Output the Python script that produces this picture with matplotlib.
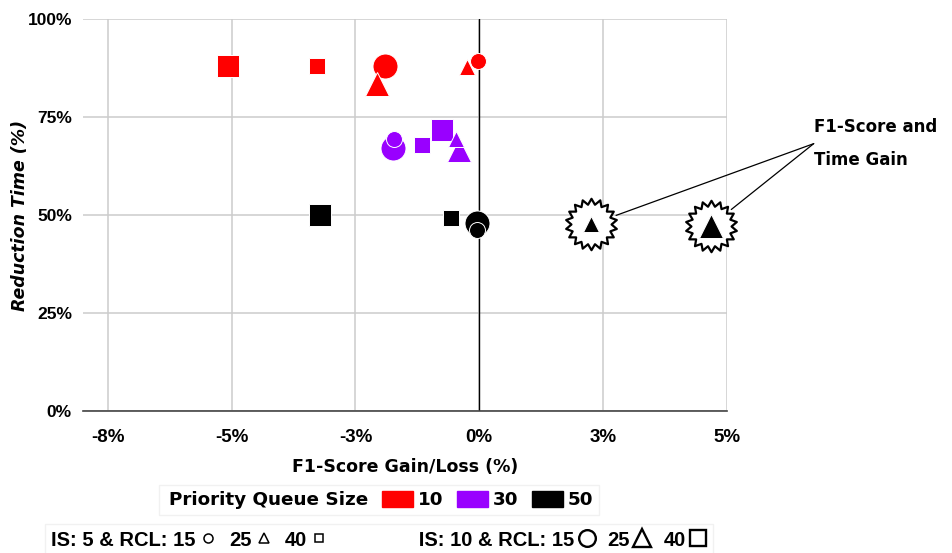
import numpy as np
import matplotlib.pyplot as plt
from matplotlib.path import Path
from matplotlib.lines import Line2D
from matplotlib.patches import Patch
from matplotlib.ticker import FuncFormatter


# dados: (ganho F1 %, reducao de tempo %)
queue_sizes = ['10', '30', '50']
queue_colors = ['#ff0000', '#9900ff', '#000000']
rcl_values = ['15', '25', '40']
rcl_markers = ['o', '^', 's']

# IS = 10 (marcadores grandes), ordem RCL 15, 25, 40
f1_is10 = {
    '10': [-1.90, -2.07, -5.07],
    '30': [-1.74, -0.40, -0.75],
    '50': [-0.04, 4.67, -3.21],
}
time_is10 = {
    '10': [88.0, 83.5, 88.0],
    '30': [67.1, 66.5, 71.7],
    '50': [48.0, 47.2, 50.0],
}
# IS = 5 (marcadores pequenos)
f1_is5 = {
    '10': [-0.02, -0.24, -3.27],
    '30': [-1.72, -0.47, -1.15],
    '50': [-0.04, 2.26, -0.57],
}
time_is5 = {
    '10': [89.3, 87.8, 88.0],
    '30': [69.4, 69.5, 67.9],
    '50': [46.2, 47.6, 49.2],
}

x_ticks = [-7.5, -5, -2.5, 0, 2.5, 5]
y_ticks = [0, 25, 50, 75, 100]

# tamanhos de marcador (pt) por RCL
size_big = {'o': 18, '^': 17, 's': 15.5}
size_small = {'o': 11.5, '^': 11.5, 's': 11}
leg_big = {'o': 12, '^': 13.5, 's': 11}
leg_small = {'o': 6.5, '^': 7, 's': 6}

estreita = 'Liberation Sans'


################################################################################

fig = plt.figure(figsize=(9.53, 5.53), dpi=100)
ax = fig.add_axes([83 / 953, 1 - 411 / 553, (727 - 83) / 953, (411 - 19) / 553])

ax.set_xlim(-8, 5)
ax.set_ylim(0, 100)
ax.set_xticks(x_ticks)
ax.set_yticks(y_ticks)
ax.xaxis.set_major_formatter(FuncFormatter(lambda v, p: f'{int(np.floor(v + 0.5)) if v >= 0 else -int(np.floor(-v + 0.5))}%'))
ax.yaxis.set_major_formatter(FuncFormatter(lambda v, p: f'{int(v)}%'))
ax.grid(True, color='#cccccc', linewidth=1.1)
ax.set_axisbelow(True)
for s in ['top', 'right', 'left']:
    ax.spines[s].set_visible(False)
ax.spines['bottom'].set_color('#444444')
ax.spines['bottom'].set_linewidth(1.2)
ax.tick_params(axis='both', length=0)
ax.tick_params(axis='x', pad=13)
ax.tick_params(axis='y', pad=8)
ax.axvline(0, color='black', linewidth=1.0, zorder=1)

for lbl in ax.get_xticklabels():
    lbl.set_fontweight('bold')
    lbl.set_fontsize(13.5)
    lbl.set_family(estreita)
for lbl in ax.get_yticklabels():
    lbl.set_fontweight('bold')
    lbl.set_fontsize(12.5)
    lbl.set_family('Liberation Sans')

ax.set_xlabel('F1-Score Gain/Loss (%)', fontsize=12.5, fontweight='bold')
ax.xaxis.set_label_coords(0.5, (411 - 458) / 392)
ax.set_ylabel('Reduction Time (%)', fontsize=12.5, fontweight='bold', style='italic')
ax.yaxis.set_label_coords((29 - 83) / 644, 0.5)

# estrelas atras dos pontos com ganho nos dois eixos
star = Path.unit_regular_star(18, 0.78)
gain_x, gain_y = [], []
for q in queue_sizes:
    for xs, ys in [(f1_is10[q], time_is10[q]), (f1_is5[q], time_is5[q])]:
        for xv, yv in zip(xs, ys):
            if xv > 0 and yv > 0:
                gain_x.append(xv)
                gain_y.append(yv)
ax.plot(gain_x, gain_y, linestyle='none', marker=star, markersize=37,
        markerfacecolor='white', markeredgecolor='black', markeredgewidth=1.6,
        zorder=3, clip_on=False)

# pontos grandes (IS 10) primeiro, depois pequenos (IS 5)
z = 4
for q, c in zip(queue_sizes, queue_colors):
    for i, m in enumerate(rcl_markers):
        ax.plot(f1_is10[q][i], time_is10[q][i], linestyle='none', marker=m,
                markersize=size_big[m], markerfacecolor=c, markeredgecolor='white',
                markeredgewidth=0.7, zorder=z, clip_on=False)
for q, c in zip(queue_sizes, queue_colors):
    for m in ['^', 's', 'o']:
        j = rcl_markers.index(m)
        ax.plot(f1_is5[q][j], time_is5[q][j], linestyle='none', marker=m,
                markersize=size_small[m], markerfacecolor=c, markeredgecolor='white',
                markeredgewidth=0.7, zorder=z + 1, clip_on=False)

# anotacao
apex = (6.75, 68.2)
ax.text(apex[0], apex[1], 'F1-Score and\nTime Gain', fontsize=12, fontweight='bold',
        ha='left', va='center', linespacing=2.05, clip_on=False)
for xv, yv in zip(gain_x, gain_y):
    ax.annotate('', xy=(xv, yv), xytext=apex, annotation_clip=False,
                arrowprops=dict(arrowstyle='-', color='black', lw=0.9,
                                shrinkA=0, shrinkB=19))

# legenda 1: tamanho da fila
h1 = [Line2D([], [], linestyle='none')]
l1 = ['Priority Queue Size']
for q, c in zip(queue_sizes, queue_colors):
    h1.append(Patch(facecolor=c, edgecolor=c))
    l1.append(q)
leg1 = fig.legend(h1, l1, loc='center', bbox_to_anchor=(379 / 953, 1 - 500 / 553), ncol=4,
                  prop={'weight': 'bold', 'size': 13.2}, handlelength=1.7, handleheight=1.0,
                  handletextpad=0.25, columnspacing=0.75, frameon=True, fancybox=False,
                  borderpad=0.3, edgecolor='#eeeeee', borderaxespad=0)
leg1.get_frame().set_linewidth(1.0)
# tira o espaco do marcador vazio do titulo
primeira = leg1._legend_handle_box.get_children()[0].get_children()[0]
primeira.get_children()[0].width = 0

# legenda 2: IS e RCL
h2, l2 = [], []
for is_lbl, sz, ew in [('IS: 5 & RCL: ', leg_small, 1.1), ('              IS: 10 & RCL: ', leg_big, 1.7)]:
    for k, (r, m) in enumerate(zip(rcl_values, rcl_markers)):
        h2.append(Line2D([], [], linestyle='none', marker=m, markersize=sz[m],
                         markerfacecolor='white', markeredgecolor='black', markeredgewidth=ew))
        l2.append((is_lbl if k == 0 else '') + r)
leg2 = fig.legend(h2, l2, loc='center', bbox_to_anchor=(379 / 953, 1 - 540 / 553), ncol=6,
                  prop={'weight': 'bold', 'size': 14.5, 'family': estreita}, markerfirst=False,
                  handlelength=0.9, handletextpad=0.15, columnspacing=0.6, frameon=True,
                  fancybox=False, borderpad=0.3, edgecolor='#eeeeee', borderaxespad=0)
leg2.get_frame().set_linewidth(1.0)

plt.savefig('out.png', dpi=100)
